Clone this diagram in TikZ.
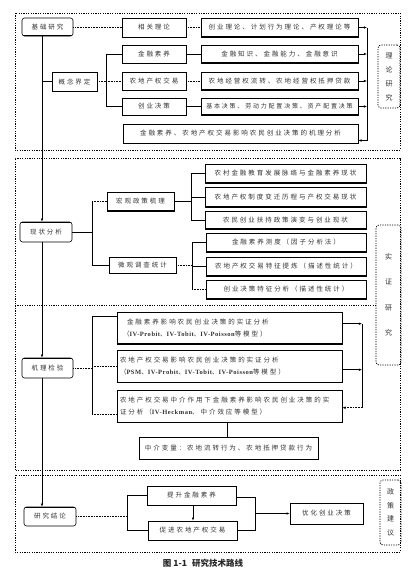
\documentclass[tikz,border=0pt]{standalone}
\usepackage{fontspec}
\setmainfont{Noto Sans CJK SC}[LetterSpace=30]
\newfontfamily\capfont{Noto Sans CJK SC}
\newfontfamily\lat{Liberation Serif}[LetterSpace=8]
\usetikzlibrary{arrows.meta}
\newcommand\mybox[7][]{\node[box,#1,minimum width={(#4-#2)*1pt},minimum height={(#5-#3)*1pt}] (#6) at ({(#2+#4)/2},{(#3+#5)/2}) {#7};}
\begin{document}
\begin{tikzpicture}[x=1pt,y=-1pt,
  box/.style={draw,line width=0.6pt,inner sep=0pt,text=black!80,font=\fontsize{6.5}{11.5}\selectfont},
  rbox/.style={rounded corners=2.5pt},
  tt/.style={path picture={\draw[line width=2.4pt] (path picture bounding box.north west)--(path picture bounding box.north east);}},
  tb/.style={path picture={\draw[line width=2.4pt] (path picture bounding box.south west)--(path picture bounding box.south east);}},
  ttb/.style={path picture={\draw[line width=2.4pt] (path picture bounding box.north west)--(path picture bounding box.north east);
      \draw[line width=2.4pt] (path picture bounding box.south west)--(path picture bounding box.south east);}},
  sec/.style={line width=0.7pt,dash pattern=on 1.2pt off 1.2pt},
  side/.style={draw,line width=0.7pt,dash pattern=on 1.2pt off 1.2pt,rounded corners=3pt,inner sep=0pt,text=black!80},
  ln/.style={line width=0.6pt},
  dl/.style={line width=1pt,dash pattern=on 1pt off 0.6pt},
  arr/.style={-{Latex[length=3.2pt,width=2.6pt]}},
]
\useasboundingbox (0,0) rectangle (418,571);
% section frames
\draw[sec] (15,13) rectangle (400,150);
\draw[sec] (15,470) -- (15,158) -- (400,158) -- (400,470) -- cycle;
\draw[sec] (15,305) -- (376,305);
\draw[sec] (15,475) rectangle (400,552);
% side labels
\node[side,minimum width=22pt,minimum height=63pt,font=\fontsize{7}{14}\selectfont,align=center] (llyj) at (389,76.5) {理\\论\\研\\究};
\node[side,minimum width=25pt,minimum height=140pt,font=\fontsize{7}{25.5}\selectfont,align=center] (szyj) at (388.5,295) {实\\证\\研\\究};
\node[side,minimum width=21pt,minimum height=65pt,font=\fontsize{7}{13.5}\selectfont,align=center] (zcjy) at (390.5,512.5) {政\\策\\建\\议};
% spine coordinates
\coordinate (sp) at (42,0);
\coordinate (b1) at (106,0);
\coordinate (rc) at (367,0);
\coordinate (b2) at (92,0);
\coordinate (b3) at (191,0);
\coordinate (b4) at (192,0);
\coordinate (rc2) at (362,0);
\coordinate (b5) at (127,0);
\coordinate (b6) at (255,0);
% ---- section 1
\mybox[rbox,tb]{22}{18}{73}{36}{jc}{基础研究}
\mybox{52}{72}{97}{91}{gn}{概念界定}
\mybox{122}{18}{186}{37}{xg}{相关理论}
\mybox{122}{45}{186}{63}{jr}{金融素养}
\mybox{122}{72}{186}{90}{nd}{农地产权交易}
\mybox{122}{98}{186}{115}{cj}{创业决策}
\mybox[ttb]{201}{18}{358}{37}{t1}{创业理论、计划行为理论、产权理论等}
\mybox[tb]{201}{45}{358}{63}{t2}{金融知识、金融能力、金融意识}
\mybox[tb]{201}{72}{358}{90}{t3}{农地经营权流转、农地经营权抵押贷款}
\mybox[tb,font=\fontsize{6}{8}\selectfont]{201}{98}{358}{115}{t4}{基本决策、劳动力配置决策、资产配置决策}
\mybox{123}{124}{358}{143}{ana}{金融素养、农地产权交易影响农民创业决策的机理分析}
% ---- section 2
\mybox[rbox,tt]{20}{222}{72}{242}{xz}{现状分析}
\mybox[tb]{107}{192}{174}{211}{hg}{宏观政策梳理}
\mybox{109}{257}{176}{273}{wg}{微观调查统计}
\mybox[ttb]{205}{164}{366}{183}{m1}{农村金融教育发展脉络与金融素养现状}
\mybox[ttb]{205}{187}{366}{207}{m2}{农地产权制度变迁历程与产权交易现状}
\mybox[tb]{205}{211}{366}{229}{m3}{农民创业扶持政策演变与创业现状}
\mybox[tb]{206}{233}{366}{252}{u1}{金融素养测度（因子分析法）}
\mybox[tb]{206}{257}{366}{276}{u2}{农地产权交易特征提炼（描述性统计）}
\mybox[ttb]{206}{280}{366}{299}{u3}{创业决策特征分析（描述性统计）}
% ---- section 3
\mybox[rbox,tt]{22}{358}{73}{378}{jl}{机理检验}
\mybox[tb,align=left,text width=213pt]{117}{312}{342}{344}{ea}{\hspace*{4pt}金融素养影响农民创业决策的实证分析\\（{\lat\bfseries IV-Probit}、{\lat\bfseries IV-Tobit}、{\lat\bfseries IV-Poisson}等模型）}
\mybox[tt,align=left,text width=219pt]{117}{350}{342}{382}{eb}{农地产权交易影响农民创业决策的实证分析\\（{\lat\bfseries PSM}、{\lat\bfseries IV-Probit}、{\lat\bfseries IV-Tobit}、{\lat\bfseries IV-Poisson}等模型）}
\mybox[align=left,text width=219pt]{117}{390}{342}{422}{ec}{农地产权交易中介作用下金融素养影响农民创业决策的实\\证分析（{\lat\bfseries IV-Heckman}、中介效应等模型）}
\mybox{139}{437}{318}{459}{zj}{中介变量：农地流转行为、农地抵押贷款行为}
% ---- section 4
\mybox[rbox,tt]{24}{507}{76}{526}{yj}{研究结论}
\mybox[tt]{147}{486}{236}{505}{ts}{提升金融素养}
\mybox[tt]{148}{521}{237}{540}{cj2}{促进农地产权交易}
\mybox{290}{503}{363}{524}{yh}{优化创业决策}
% caption
\node[font=\fontsize{8.5}{9}\selectfont\capfont,text=black!85] (cap) at (203,563) {\textbf{图 1-1\hspace{5pt}研究技术路线}};
% ---- connectors section 1
\draw[ln] (jc.south -| sp) -- (gn.west -| sp);
\draw[ln] (gn.west -| sp) -- (gn.west);
\draw[ln,arr] (gn.west -| sp) -- (xz.north -| sp);
\draw[ln,arr] (xz.south -| sp) -- (jl.north -| sp);
\draw[ln,arr] (jl.south -| sp) -- (yj.north -| sp);
\draw[dl] (jc.east) -- (jc.east -| xg.west);
\draw[dl] (xg.east) -- (xg.east -| t1.west);
\draw[dl] (gn.east) -- (gn.east -| b1);
\draw[ln] (jr.west) -- (jr.west -| b1) -- (cj.west -| b1) -- (cj.west);
\draw[dl] (nd.west -| b1) -- (nd.west);
\draw[ln] (jr.east) -- (jr.east -| t2.west);
\draw[dl] (nd.east) -- (nd.east -| t3.west);
\draw[ln] (cj.east) -- (cj.east -| t4.west);
\foreach \n in {t1,t2,t3,t4} {\draw[ln,arr] (\n.east) -- (\n.east -| rc);}
\draw[ln] (t1.east -| rc) -- ([yshift=-7pt]ana.east -| rc);
\draw[ln,arr] ([yshift=-7pt]ana.east -| rc) -- ([yshift=-7pt]ana.east);
% ---- section 2
\draw[ln] (xz.east) -- (xz.east -| b2);
\draw[ln] (hg.west -| b2) -- (wg.west -| b2) -- (wg.west);
\draw[dl] (hg.west -| b2) -- (hg.west);
\draw[ln] (hg.east) -- (hg.east -| b3);
\draw[ln] (m1.west) -- (m1.west -| b3) -- (m3.west -| b3) -- (m3.west);
\draw[ln] (m2.west -| b3) -- (m2.west);
\draw[dl] (wg.east) -- (wg.east -| b4);
\draw[ln] (u1.west) -- (u1.west -| b4) -- (u3.west -| b4);
\draw[dl] (u3.west -| b4) -- (u3.west);
\draw[ln] (u2.west -| b4) -- (u2.west);
% ---- section 3
\draw[dl] (jl.east) -- (jl.east -| b2);
\draw[ln] ([yshift=12pt]ea.west -| b2) -- ([yshift=12pt]ea.west);
\draw[ln] ([yshift=12pt]ea.west -| b2) -- ([yshift=-8pt]ec.west -| b2);
\draw[dl] (eb.west -| b2) -- (eb.west);
\draw[dl] ([yshift=-8pt]ec.west -| b2) -- ([yshift=-8pt]ec.west);
\draw[ln,arr] ([yshift=-12pt]ea.north east) -- ([yshift=-12pt]ea.north east -| rc2);
\draw[ln,arr] ([yshift=-20pt]eb.north east) -- ([yshift=-20pt]eb.north east -| rc2);
\draw[ln] ([yshift=-12pt]ea.north east -| rc2) -- ([yshift=-18pt]ec.north east -| rc2);
\draw[dl,arr] ([yshift=-18pt]ec.north east -| rc2) -- ([yshift=-18pt]ec.north east);
\draw[ln] ([xshift=-2pt]ec.south) -- ([xshift=-2pt]ec.south |- zj.north);
% ---- section 4
\draw[dl] (yj.east) -- (yj.east -| b5);
\draw[ln] (ts.west) -- (ts.west -| b5) -- (cj2.west -| b5) -- (cj2.west);
\draw[ln,arr] ([xshift=1.5pt]ts.south) -- ([xshift=1.5pt]ts.south |- cj2.north);
\draw[ln] ([yshift=-1.5pt]ts.east) -- ([yshift=-1.5pt]ts.east -| b6) -- (cj2.east -| b6) -- (cj2.east);
\draw[ln,arr] (yh.west -| b6) -- (yh.west);
\end{tikzpicture}
\end{document}
